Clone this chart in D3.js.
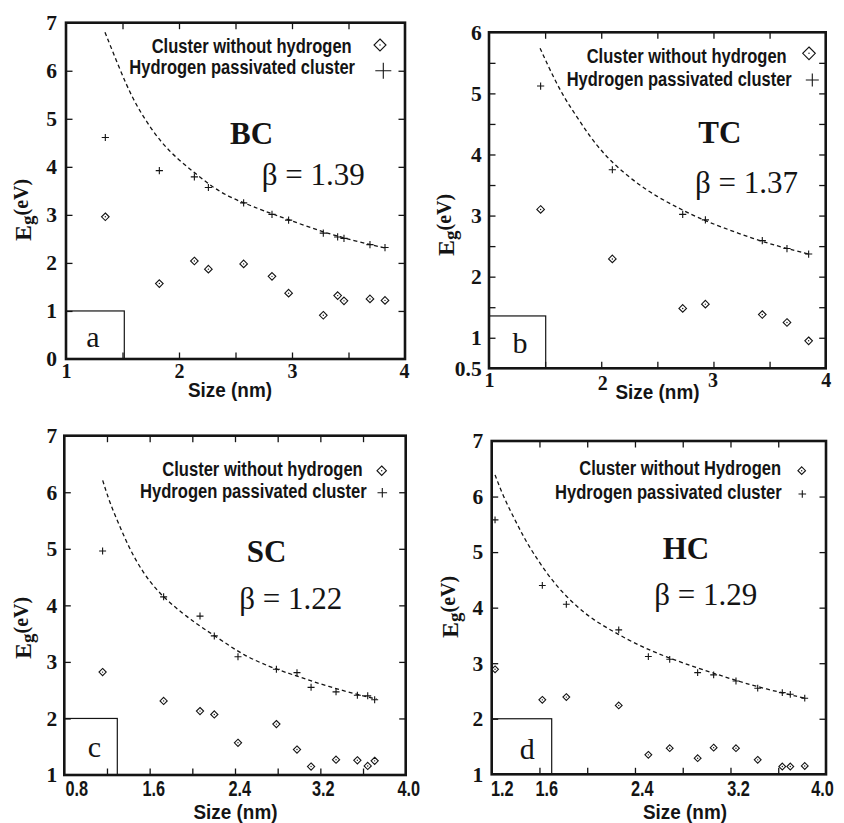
<!DOCTYPE html>
<html><head><meta charset="utf-8">
<script src="https://cdn.jsdelivr.net/npm/d3@7"></script>
<style>body{margin:0;background:#fff}svg{display:block}</style>
</head><body>
<svg id="chart" width="844" height="823"></svg>
<script>
// ---------- DATA ----------
// (a) BC
const bcSize = [1.348, 1.826, 2.136, 2.26, 2.572, 2.823, 2.97, 3.277, 3.404, 3.46, 3.69, 3.823];
const bcBare = [2.96, 1.57, 2.04, 1.87, 1.98, 1.72, 1.37, 0.91, 1.32, 1.21, 1.25, 1.22];
const bcHyd  = [4.61, 3.92, 3.79, 3.57, 3.25, 3.01, 2.89, 2.62, 2.54, 2.51, 2.38, 2.32];
const bcFitX = [1.345, 1.478, 1.581, 1.699, 1.847, 1.994, 2.142, 2.289, 2.438, 2.584, 2.732, 2.967, 3.277, 3.55, 3.823];
const bcFitY = [6.80, 6.02, 5.46, 4.98, 4.49, 4.15, 3.87, 3.59, 3.38, 3.24, 3.10, 2.90, 2.64, 2.46, 2.31];
// (b) TC
const tcSize = [1.46, 2.099, 2.726, 2.928, 3.435, 3.655, 3.848];
const tcBare = [3.10, 2.29, 1.48, 1.55, 1.38, 1.25, 0.95];
const tcHyd  = [5.12, 3.75, 3.02, 2.93, 2.59, 2.46, 2.37];
const tcFitX = [1.455, 1.544, 1.662, 1.782, 1.900, 2.019, 2.138, 2.316, 2.495, 2.673, 2.851, 3.088, 3.355, 3.6, 3.848];
const tcFitY = [5.74, 5.38, 4.95, 4.62, 4.29, 4.02, 3.80, 3.53, 3.31, 3.14, 2.97, 2.80, 2.62, 2.485, 2.37];
// (c) SC
const scSize = [1.159, 1.731, 2.072, 2.206, 2.428, 2.788, 2.981, 3.113, 3.347, 3.547, 3.644, 3.709];
const scBare = [2.82, 2.31, 2.13, 2.07, 1.57, 1.90, 1.45, 1.15, 1.27, 1.26, 1.16, 1.25];
const scHyd  = [4.96, 4.15, 3.81, 3.46, 3.09, 2.87, 2.81, 2.55, 2.47, 2.41, 2.40, 2.33];
const scFitX = [1.160, 1.228, 1.322, 1.416, 1.541, 1.666, 1.791, 1.948, 2.103, 2.291, 2.478, 2.728, 2.900, 3.322, 3.728];
const scFitY = [6.21, 5.80, 5.39, 4.98, 4.57, 4.27, 4.04, 3.80, 3.59, 3.36, 3.12, 2.91, 2.80, 2.53, 2.34];
// (d) HC
const hcSize = [1.228, 1.624, 1.825, 2.264, 2.512, 2.691, 2.925, 3.059, 3.246, 3.428, 3.634, 3.701, 3.822];
const hcBare = [2.89, 2.34, 2.39, 2.24, 1.35, 1.47, 1.29, 1.48, 1.47, 1.26, 1.14, 1.14, 1.15];
const hcHyd  = [5.58, 4.40, 4.06, 3.60, 3.12, 3.07, 2.83, 2.79, 2.68, 2.55, 2.47, 2.44, 2.37];
const hcFitX = [1.228, 1.297, 1.381, 1.465, 1.548, 1.661, 1.772, 1.912, 2.051, 2.218, 2.386, 2.582, 2.805, 3.1, 3.391, 3.822];
const hcFitY = [6.39, 6.00, 5.64, 5.28, 4.98, 4.62, 4.32, 4.02, 3.78, 3.57, 3.37, 3.18, 3.00, 2.79, 2.59, 2.37];

// tick values / labels
const abXTicks = [1.5, 2, 2.5, 3, 3.5];
const abXLabels = [1, 2, 3, 4];
const aYTicks = [1, 2, 3, 4, 5, 6];
const aYLabels = [0, 1, 2, 3, 4, 5, 6, 7];
const bYTicks = [1, 1.5, 2, 2.5, 3, 3.5, 4, 4.5, 5, 5.5];
const bYLabels = [0.5, 1, 2, 3, 4, 5, 6];
const cXTicks = [1.2, 1.6, 2.0, 2.4, 2.8, 3.2, 3.6];
const cXLabels = [0.8, 1.6, 2.4, 3.2, 4.0];
const dXTicks = [1.6, 2.0, 2.4, 2.8, 3.2, 3.6];
const dXLabels = [1.2, 1.6, 2.4, 3.2, 4.0];
const cdYTicks = [2, 3, 4, 5, 6];
const cdYLabels = [1, 2, 3, 4, 5, 6, 7];

const panelNames = ["BC", "TC", "SC", "HC"];
const betaValues = ["1.39", "1.37", "1.22", "1.29"];
const panelLetters = ["a", "b", "c", "d"];
const legendBare = ["Cluster without hydrogen", "Cluster without hydrogen", "Cluster without hydrogen", "Cluster without Hydrogen"];
const legendHyd = "Hydrogen passivated cluster";
const xTitle = "Size (nm)";

// ---------- LAYOUT ----------
const panels = [
  { size: bcSize, bare: bcBare, hyd: bcHyd, fx: bcFitX, fy: bcFitY,
    x0: 66, y0: 22.7, x1: 405, y1: 359, xd: [1, 4], yd: [0, 7],
    xt: abXTicks, xl: abXLabels, yt: aYTicks, yl: aYLabels, xfmt: d3.format("d"), yfmt: d3.format("d"),
    xSans: false, xPad: 4.8, yPad: 9, xDx: [0,0,0,-1], xDy: [0,0,0,0],
    leg1: [351.7, 53.3, 200], leg2: [355, 74, 225.7], legDia: [380, 45, 6], legPlus: [383.3, 70.7, 8],
    title: [230, 144], beta: [261.7, 185], boxX1: 124.3, boxTop: 1, letter: [93, 346.7],
    eg: [31, 241], xt2: [230, 397], dia: 3.8, plus: 3.6 },
  { size: tcSize, bare: tcBare, hyd: tcHyd, fx: tcFitX, fy: tcFitY,
    x0: 489, y0: 32.3, x1: 825.7, y1: 368.3, xd: [1, 4], yd: [0.5, 6],
    xt: abXTicks, xl: abXLabels, yt: bYTicks, yl: bYLabels, xfmt: d3.format("d"), yfmt: v => (v === 0.5 ? "0.5" : d3.format("d")(v)),
    xSans: false, xPad: 4.2, yPad: 7.3, xDx: [0,1,-1,0], xDy: [0,3.5,0,0],
    leg1: [786.7, 63.3, 200], leg2: [791.7, 86, 225], legDia: [809, 53.3, 6.3], legPlus: [812.3, 80, 6.5],
    title: [698.3, 143.3], beta: [695, 192.7], boxX1: 545.7, boxTop: 1.357, letter: [520, 352.7],
    eg: [454, 256], xt2: [657.5, 398.5], dia: 3.8, plus: 3.6 },
  { size: scSize, bare: scBare, hyd: scHyd, fx: scFitX, fy: scFitY,
    x0: 64.3, y0: 435.7, x1: 405.7, y1: 775, xd: [0.8, 4.0], yd: [1, 7],
    xt: cXTicks, xl: cXLabels, yt: cdYTicks, yl: cdYLabels, xfmt: d3.format(".1f"), yfmt: d3.format("d"),
    xSans: true, xPad: 5.5, yPad: 7, xDx: [12, 3.6, 4.3, 2.4, 2.6], xDy: [0,0,0,0,0],
    leg1: [362.7, 475.7, 200.4], leg2: [366.7, 498.3, 226.7], legDia: [381.7, 470.7, 4.7], legPlus: [382.3, 492.7, 4.8],
    title: [246.7, 561.7], beta: [239.3, 609], boxX1: 117.3, boxTop: 2, letter: [94.3, 756.7],
    eg: [31, 659], xt2: [235.5, 818.5], dia: 3.6, plus: 3.5 },
  { size: hcSize, bare: hcBare, hyd: hcHyd, fx: hcFitX, fy: hcFitY,
    x0: 491.7, y0: 441, x1: 826, y1: 774.3, xd: [1.2, 4.0], yd: [1, 7],
    xt: dXTicks, xl: dXLabels, yt: cdYTicks, yl: cdYLabels, xfmt: d3.format(".1f"), yfmt: d3.format("d"),
    xSans: true, xPad: 6.5, yPad: 8.4, xDx: [10, 6.8, 6.8, 7.5, -4], xDy: [0,0,0,0,0],
    leg1: [781, 475, 201.7], leg2: [781.7, 499.3, 226.7], legDia: [801.7, 470.7, 3.8], legPlus: [802.3, 494, 3.8],
    title: [662.7, 559], beta: [654.3, 605], boxX1: 551.7, boxTop: 2, letter: [527.3, 759.3],
    eg: [458, 638], xt2: [685, 818.5], dia: 3.4, plus: 3.4 }
];

const INK = "#141414";
const SERIF = "'Liberation Serif', 'Times New Roman', serif";
const SANS = "'Liberation Sans', Arial, Helvetica, sans-serif";
const svg = d3.select("#chart");
svg.append("rect").attr("width", 844).attr("height", 823).attr("fill", "#fff");

function diamondPath(r) { return `M0,${-r}L${r},0L0,${r}L${-r},0Z`; }
function plusPath(r) { return `M${-r},0H${r}M0,${-r}V${r}`; }

panels.forEach((p, i) => {
  const x = d3.scaleLinear().domain(p.xd).range([p.x0, p.x1]);
  const y = d3.scaleLinear().domain(p.yd).range([p.y1, p.y0]);
  const g = svg.append("g");

  // inward tick marks on all four sides
  const tickAxes = [
    [d3.axisBottom(x).tickValues(p.xt), `translate(0,${p.y1})`],
    [d3.axisTop(x).tickValues(p.xt), `translate(0,${p.y0})`],
    [d3.axisLeft(y).tickValues(p.yt), `translate(${p.x0},0)`],
    [d3.axisRight(y).tickValues(p.yt), `translate(${p.x1},0)`]
  ];
  tickAxes.forEach(([ax, tr]) => {
    const a = g.append("g").attr("transform", tr).call(ax.tickSize(-6.5).tickFormat(""));
    a.select(".domain").remove();
    a.selectAll("line").attr("stroke", INK).attr("stroke-width", 1.3);
    a.selectAll("text").remove();
  });

  // x tick labels
  const xa = g.append("g").attr("transform", `translate(0,${p.y1})`)
    .call(d3.axisBottom(x).tickValues(p.xl).tickSize(0).tickPadding(p.xPad).tickFormat(p.xfmt));
  xa.select(".domain").remove();
  xa.selectAll("text")
    .attr("fill", INK)
    .attr("font-family", p.xSans ? SANS : SERIF)
    .attr("font-weight", "bold")
    .attr("font-size", p.xSans ? 22 : 20)
    .attr("dx", (d, k) => p.xDx[k])
    .attr("transform", (d, k) => `translate(0,${p.xDy[k]})`);
  if (p.xSans) {
    xa.selectAll("text").each(function () {
      const w = this.getComputedTextLength();
      d3.select(this).attr("textLength", w * 0.74).attr("lengthAdjust", "spacingAndGlyphs");
    });
  }

  // y tick labels
  const ya = g.append("g").attr("transform", `translate(${p.x0},0)`)
    .call(d3.axisLeft(y).tickValues(p.yl).tickSize(0).tickPadding(p.yPad).tickFormat(p.yfmt));
  ya.select(".domain").remove();
  ya.selectAll("text").attr("fill", INK).attr("font-family", SERIF)
    .attr("font-weight", "bold").attr("font-size", 21.5);

  // letter box
  g.append("rect").attr("x", p.x0).attr("y", y(p.boxTop))
    .attr("width", p.boxX1 - p.x0).attr("height", p.y1 - y(p.boxTop))
    .attr("fill", "none").attr("stroke", INK).attr("stroke-width", 1.2);
  g.append("text").attr("x", p.letter[0]).attr("y", p.letter[1])
    .attr("text-anchor", "middle").attr("font-family", SERIF).attr("font-size", 30)
    .attr("fill", INK).text(panelLetters[i]);

  // fitted dashed curve
  const pts = p.fx.map((v, k) => [v, p.fy[k]]);
  g.append("path").datum(pts)
    .attr("d", d3.line().x(d => x(d[0])).y(d => y(d[1])).curve(d3.curveBasis))
    .attr("fill", "none").attr("stroke", INK).attr("stroke-width", 1.3)
    .attr("stroke-dasharray", "4,3");

  // data markers
  const bare = p.size.map((s, k) => [s, p.bare[k]]);
  const hyd = p.size.map((s, k) => [s, p.hyd[k]]);
  g.selectAll(".dia").data(bare).join("path")
    .attr("transform", d => `translate(${x(d[0])},${y(d[1])})`)
    .attr("d", diamondPath(p.dia)).attr("fill", "none").attr("stroke", INK).attr("stroke-width", 1.1);
  g.selectAll(".dot").data(bare).join("circle")
    .attr("cx", d => x(d[0])).attr("cy", d => y(d[1])).attr("r", 0.7).attr("fill", INK);
  g.selectAll(".pl").data(hyd).join("path")
    .attr("transform", d => `translate(${x(d[0])},${y(d[1])})`)
    .attr("d", plusPath(p.plus)).attr("fill", "none").attr("stroke", INK).attr("stroke-width", 1.1);

  // legend
  const legText = (pos, str) => g.append("text").attr("x", pos[0]).attr("y", pos[1])
    .attr("text-anchor", "end").attr("font-family", SANS).attr("font-weight", "bold")
    .attr("font-size", 19.5).attr("fill", INK)
    .attr("textLength", pos[2]).attr("lengthAdjust", "spacingAndGlyphs").text(str);
  legText(p.leg1, legendBare[i]);
  legText(p.leg2, legendHyd);
  g.append("path").attr("transform", `translate(${p.legDia[0]},${p.legDia[1]})`)
    .attr("d", diamondPath(p.legDia[2])).attr("fill", "none").attr("stroke", INK).attr("stroke-width", 1.1);
  g.append("circle").attr("cx", p.legDia[0]).attr("cy", p.legDia[1]).attr("r", 0.7).attr("fill", INK);
  g.append("path").attr("transform", `translate(${p.legPlus[0]},${p.legPlus[1]})`)
    .attr("d", plusPath(p.legPlus[2])).attr("fill", "none").attr("stroke", INK).attr("stroke-width", 1.1);

  // title & beta
  g.append("text").attr("x", p.title[0]).attr("y", p.title[1])
    .attr("font-family", SERIF).attr("font-weight", "bold").attr("font-size", 31)
    .attr("fill", INK).text(panelNames[i]);
  g.append("text").attr("x", p.beta[0]).attr("y", p.beta[1])
    .attr("font-family", SERIF).attr("font-size", 31)
    .attr("fill", INK).text("β = " + betaValues[i]);

  // axis titles
  g.append("text").attr("x", p.xt2[0]).attr("y", p.xt2[1])
    .attr("text-anchor", "middle").attr("font-family", SANS).attr("font-weight", "bold")
    .attr("font-size", 21).attr("fill", INK)
    .attr("textLength", 84).attr("lengthAdjust", "spacingAndGlyphs").text(xTitle);

  const eg = g.append("text").attr("transform", `translate(${p.eg[0]},${p.eg[1]}) rotate(-90)`)
    .attr("font-family", SERIF).attr("font-weight", "bold").attr("fill", INK);
  eg.append("tspan").attr("font-size", 24).text("E");
  eg.append("tspan").attr("font-size", 19).attr("dy", 3).text("g");
  eg.append("tspan").attr("font-size", 20).attr("dy", -6).text("(eV)");

  // frame
  g.append("rect").attr("x", p.x0).attr("y", p.y0)
    .attr("width", p.x1 - p.x0).attr("height", p.y1 - p.y0)
    .attr("fill", "none").attr("stroke", INK).attr("stroke-width", 2.6);
});
</script>
</body></html>
